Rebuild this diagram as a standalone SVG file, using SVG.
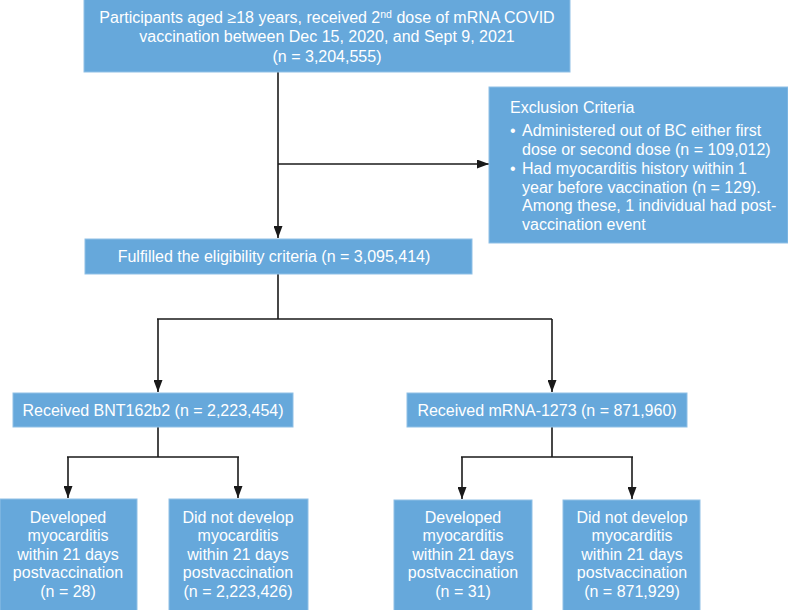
<svg xmlns="http://www.w3.org/2000/svg" width="788" height="610" viewBox="0 0 788 610">
<defs>
<marker id="ah" markerWidth="12" markerHeight="9" refX="12" refY="4.5" orient="auto" markerUnits="userSpaceOnUse" viewBox="0 0 12 9">
<path d="M0,0 L12,4.5 L0,9 Z" fill="#1a1a1a"/>
</marker>
</defs>
<style>
.box{fill:#66a8db;stroke:#8fc0e6;stroke-width:1}
.t{font-family:"Liberation Sans",Arial,sans-serif;font-size:16px;fill:#ffffff}
.c{text-anchor:middle}
.ln{stroke:#1a1a1a;stroke-width:1.6;fill:none}
</style>
<rect width="788" height="610" fill="#ffffff"/>
<g id="connectors">
<path class="ln" d="M278,72 V238" marker-end="url(#ah)"/>
<path class="ln" d="M278,164 H489" marker-end="url(#ah)"/>
<path class="ln" d="M278,274 V319 M157,319 H552"/>
<path class="ln" d="M158,319 V392" marker-end="url(#ah)"/>
<path class="ln" d="M552,319 V392" marker-end="url(#ah)"/>
<path class="ln" d="M158,427 V457 M67,457 H239"/>
<path class="ln" d="M68,457 V498" marker-end="url(#ah)"/>
<path class="ln" d="M238,457 V498" marker-end="url(#ah)"/>
<path class="ln" d="M552,427 V457 M461,457 H633"/>
<path class="ln" d="M462,457 V499" marker-end="url(#ah)"/>
<path class="ln" d="M632,457 V499" marker-end="url(#ah)"/>
</g>
<g id="participants">
<rect class="box" x="84" y="-1" width="486" height="73"/>
<text class="t c" x="327" y="23">Participants aged ≥18 years, received 2<tspan font-size="10.5" dy="-5">nd</tspan><tspan dy="5"> dose of mRNA COVID</tspan></text>
<text class="t c" x="327" y="42">vaccination between Dec 15, 2020, and Sept 9, 2021</text>
<text class="t c" x="327" y="62">(n = 3,204,555)</text>
</g>
<g id="exclusion">
<rect class="box" x="489" y="87" width="299" height="156"/>
<text class="t" x="510" y="113">Exclusion Criteria</text>
<text class="t" x="510" y="136">•</text>
<text class="t" x="522" y="136">Administered out of BC either first</text>
<text class="t" x="522" y="155">dose or second dose (n = 109,012)</text>
<text class="t" x="510" y="174">•</text>
<text class="t" x="522" y="174">Had myocarditis history within 1</text>
<text class="t" x="522" y="193">year before vaccination (n = 129).</text>
<text class="t" x="522" y="211">Among these, 1 individual had post-</text>
<text class="t" x="522" y="230">vaccination event</text>
</g>
<g id="eligible">
<rect class="box" x="85" y="239" width="387" height="35"/>
<text class="t c" x="274" y="262">Fulfilled the eligibility criteria (n = 3,095,414)</text>
</g>
<g id="bnt">
<rect class="box" x="13" y="393" width="280" height="34"/>
<text class="t c" x="153" y="416">Received BNT162b2 (n = 2,223,454)</text>
</g>
<g id="mrna">
<rect class="box" x="407" y="393" width="280" height="34"/>
<text class="t c" x="547" y="416">Received mRNA-1273 (n = 871,960)</text>
</g>
<g id="bnt-yes">
<rect class="box" x="0" y="499" width="137" height="112"/>
<text class="t c" x="68" y="523">Developed</text>
<text class="t c" x="68" y="541">myocarditis</text>
<text class="t c" x="68" y="560">within 21 days</text>
<text class="t c" x="68" y="578">postvaccination</text>
<text class="t c" x="68" y="597">(n = 28)</text>
</g>
<g id="bnt-no">
<rect class="box" x="169" y="499" width="139" height="112"/>
<text class="t c" x="238" y="523">Did not develop</text>
<text class="t c" x="238" y="541">myocarditis</text>
<text class="t c" x="238" y="560">within 21 days</text>
<text class="t c" x="238" y="578">postvaccination</text>
<text class="t c" x="238" y="597">(n = 2,223,426)</text>
</g>
<g id="mrna-yes">
<rect class="box" x="394" y="500" width="138" height="111"/>
<text class="t c" x="463" y="523">Developed</text>
<text class="t c" x="463" y="541">myocarditis</text>
<text class="t c" x="463" y="560">within 21 days</text>
<text class="t c" x="463" y="578">postvaccination</text>
<text class="t c" x="463" y="597">(n = 31)</text>
</g>
<g id="mrna-no">
<rect class="box" x="563" y="500" width="137" height="111"/>
<text class="t c" x="632" y="523">Did not develop</text>
<text class="t c" x="632" y="541">myocarditis</text>
<text class="t c" x="632" y="560">within 21 days</text>
<text class="t c" x="632" y="578">postvaccination</text>
<text class="t c" x="632" y="597">(n = 871,929)</text>
</g>
</svg>
